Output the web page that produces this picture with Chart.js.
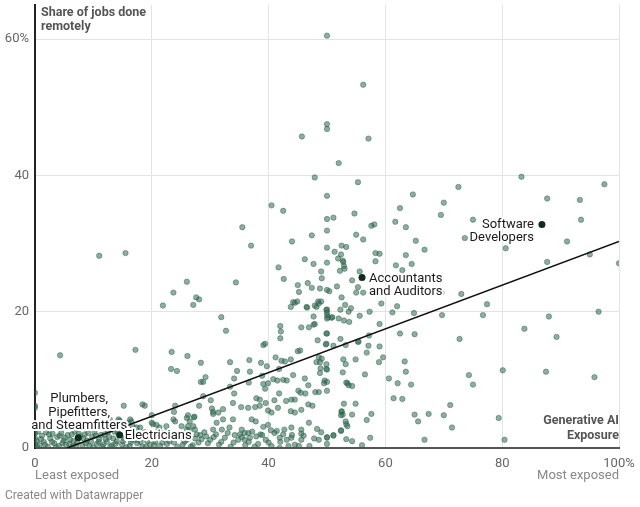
<!DOCTYPE html>
<html>
<head>
<meta charset="utf-8">
<script src="https://cdn.jsdelivr.net/npm/chart.js@4.4.1/dist/chart.umd.min.js"></script>
<style>
  html, body { margin: 0; padding: 0; background: #fff; }
</style>
</head>
<body>
<canvas id="chart" width="640" height="507"></canvas>
<script>
// [generative AI exposure, share of jobs done remotely] per occupation
const jobs = [
  // upper part
  [50,60.5],[56.2,53.3],[50,47.5],[50,46.8],[57.1,45.4],[45.7,45.7],[52,41.8],[47.9,39.7],[55.3,39.0],[83.3,39.8],
  [97.5,38.7],[72.5,38.3],[50,37.0],[64.7,37.2],[87.7,36.6],[93.3,36.4],[70,36.0],[40.5,35.6],[62.5,35.2],[42.5,34.8],
  [54.7,34.4],[69.5,34.2],[50,33.6],[51.1,33.8],[61.7,33.2],[75,33.5],[93.5,33.5],[57.6,32.6],[58.1,32.8],[35.5,32.4],
  [63.5,32.4],[50,31.9],[47.4,31.2],[55,31.3],[56.2,30.6],[65.2,30.4],[73.6,30.8],[91.1,30.3],[44.0,30.3],[37.0,29.7],
  [52.5,29.7],[53.3,29.5],[50,29.4],[66.7,29.1],[80.6,29.3],[11.0,28.2],[15.5,28.6],
  // 20 - 29
  [51.3,28.8],[52.4,28.4],[58.3,28.6],[59.0,28.5],[63.5,28.3],[95,28.4],[51.9,27.8],[52.7,27.5],[52.8,27.3],[58.3,27.4],
  [87.7,27.3],[100,27.1],[46.2,27.7],[47.7,27.0],[50,27.2],[52.9,26.7],[61.8,26.8],[64.5,27.0],[62.9,26.1],[41.7,26.5],
  [49,25.9],[52.2,26.0],[53,26.3],[55.6,25.9],[42.6,24.8],[49.1,24.9],[54.3,24.6],[26,24.4],[34.4,24.3],[45,23.9],
  [46.7,24.2],[47.4,23.5],[48.8,23.4],[50,23.2],[50.4,23.0],[51.7,23.7],[55.3,23.6],[55,22.8],[56.2,22.8],[45.2,22.9],
  [69.6,22.8],[73.0,22.6],[23.7,22.8],[52.5,22.1],[27.6,22.1],[28.1,21.8],[44.9,21.5],[48.5,21.5],[49,21.5],[44.5,21.3],
  [44.2,21.4],[48.6,21.2],[59.3,21.2],[77.4,21.1],[27.1,21.0],[21.9,20.9],[53.1,21.0],[62.0,20.8],[47.9,20.9],[43.8,20.7],
  [46.6,20.6],[48.2,20.7],[46.5,20.7],[52.3,20.3],[54.1,20.5],[49.9,20.3],[50,20.3],[53.7,20.0],[57.3,20.0],[96.5,20.0],
  [61.2,19.9],[64.9,19.8],
  // 15 - 20
  [50,19.9],[50,19.5],[69.7,19.5],[76.7,19.5],[88,19.3],[55.6,19.4],[47.7,19.3],[50.2,19.2],[50.8,19.1],[50.9,19.2],
  [52.0,19.0],[50,19.0],[31.9,19.2],[52.9,18.7],[53.8,18.5],[47.9,18.2],[59.0,18.2],[47.7,18.1],[42.0,17.9],[45.6,17.7],
  [46.9,17.7],[83.8,17.5],[32.7,17.2],[42.1,17.1],[50,16.8],[49.9,16.8],[62.5,16.8],[65.0,16.7],[57.2,16.5],[89.3,16.3],
  [42.0,16.1],[72.7,16.0],[52.3,16.0],[48.4,15.8],[55.3,15.6],[55.4,15.6],[49.8,15.2],[49.9,15.3],[51.1,15.0],[53.2,15.1],
  [57.1,15.0],[59.0,14.9],[39.1,15.1],[39.4,15.3],
  // 10 - 15
  [17.2,14.4],[45.0,14.2],[45.4,14.3],[23.4,14.1],[56.8,14.0],[4.3,13.6],[26.1,13.5],[41.2,13.3],[48.6,13.3],[59.6,13.3],
  [52.8,13.0],[54.9,13.0],[43.8,13.0],[49.1,13.1],[36.7,12.9],[42.2,12.8],[42.8,12.7],[63.3,12.7],[58.9,12.6],[33.4,12.6],
  [48.8,12.6],[48.2,12.6],[28.4,12.5],[38.7,12.5],[49.9,12.3],[53.2,12.3],[39.7,12.0],[23.3,11.6],[41.8,11.6],[49.9,11.6],
  [48.9,11.7],[50,11.5],[80.1,11.4],[24.3,11.3],[34.6,11.3],[36.8,11.2],[63.5,11.2],[87.5,11.2],[52.7,11.1],[48.8,11.0],
  [56.5,10.8],[74.3,10.7],[44.2,10.7],[38.9,10.6],[29.2,10.4],[95.8,10.4],[34.1,10.2],[46.2,10.2],[60.6,10.2],[40.8,10.1],
  [42.5,10.0],
  // 5 - 10
  [43.1,9.9],[41.5,9.9],[49.6,9.9],[28.4,9.7],[28.8,9.7],[50,9.7],[36.6,9.6],[53.3,9.6],[39.9,9.5],[49.5,9.5],
  [53.5,9.5],[62.1,9.5],[39.1,9.4],[64.4,9.3],[75,9.3],[46.8,9.2],[53.7,9.2],[54.3,9.1],[33.4,9.0],[39.4,8.7],
  [45.1,8.4],[50,8.4],[48.0,8.2],[48.6,8.2],[45.5,8.1],[0,8.1],[34.1,8.0],[41.8,8.0],[46.3,8.0],[28.8,7.6],
  [37.9,7.3],[61.4,7.3],[62.9,7.2],[43.9,7.1],[44.5,7.1],[38.5,7.1],[30.1,7.0],[41.0,7.0],[43.0,6.9],[39.5,6.6],
  [33.9,6.6],[52.9,6.5],[54.9,6.5],[18.4,6.4],[46.8,6.4],[71.1,6.3],[0,6.2],[15.2,6.2],[18.8,6.2],[24.0,6.2],
  [28.1,6.2],[38.5,6.2],[47.5,6.2],[37.7,6.0],[35.3,6.0],[0,5.9],[36.5,5.9],[41.6,5.9],[30.3,5.8],[32.2,5.7],
  [45.6,5.6],[39.9,5.5],[43.8,5.4],[52.5,5.4],[23.8,5.3],[30.5,5.3],[52.5,5.3],[31.4,5.2],[40.5,5.2],[44.5,5.2],
  [30.5,5.0],[57.6,5.0],[67.4,5.0],[65,4.9],[54.3,4.9],[52.7,4.9],[70.0,4.8],[20.0,4.8],[26.2,4.8],[52.4,4.8],
  // 2.5 - 5
  [27.2,4.5],[27.3,4.6],[79.4,4.4],[26.0,4.4],[33.9,4.2],[32.2,4.2],[37.1,4.2],[23.7,4.2],[12.8,4.2],[14.3,4.2],
  [16.3,4.2],[56.8,4.1],[14.5,4.0],[24.0,3.9],[26.5,3.9],[37.8,3.9],[65.6,3.9],[53.2,3.9],[16.5,3.9],[16.0,3.7],
  [20.0,3.7],[31.1,3.7],[46.9,3.7],[20.2,3.5],[53.3,3.5],[20.8,3.4],[39.9,3.4],[16.7,3.2],[22.5,3.2],[25.1,3.2],
  [26.2,3.2],[27.1,3.2],[53.5,3.2],[39.1,3.1],[71.4,3.0],[18.0,3.0],[21.3,3.0],[17.4,3.0],[33.3,3.0],[43.9,3.0],
  [48.3,2.8],[45.6,2.7],[42.7,2.7],[32.0,2.7],[30.5,2.7],[27.4,2.7],[26.0,2.7],[35.4,2.7],[40.4,2.6],[52.4,2.6],
  [41.4,2.5],[26.5,2.5],[52.4,2.5],[0,3.0],[0,3.5],
  // 0 - 2.5
  [36.5,2.2],[35.9,2.2],[21.7,2.2],[24.8,2.2],[0,2.2],[45.6,2.1],[38.6,2.0],[35.1,2.0],[31.0,2.0],[27.7,2.0],
  [51.1,1.9],[51.1,1.8],[37.9,1.7],[29.3,1.7],[50,1.6],[50,1.5],[43.9,1.5],[41.9,1.5],[36.8,1.5],[57.4,1.5],
  [0,1.5],[53.3,1.3],[28.5,1.3],[30.0,1.2],[34.8,1.2],[35.9,1.2],[43.1,1.2],[45.6,1.2],[48.6,1.2],[66.7,1.2],
  [80.4,1.2],[54.3,1.0],[0,0.7],[50,0.6],[56,0.4],[43.4,0.3],[41.9,0],[0,0],
  [0.3,1.0],[0.5,2.4],[0.8,0.4],[1.2,1.8],[1.5,0.9],[1.9,2.3],[2.2,0.2],[2.6,1.4],[3.0,2.1],[3.3,0.7],
  [3.8,1.6],[4.1,0.3],[4.5,2.2],[4.9,1.1],[5.3,0.5],[5.6,1.9],[6.0,1.2],[6.4,0.2],[6.8,2.4],[7.2,0.8],
  [7.7,1.7],[8.1,0.4],[8.5,2.0],[8.9,1.1],[9.3,0.3],[9.8,1.6],[10.2,2.3],[10.6,0.6],[11.0,1.3],[11.5,0.2],
  [11.9,2.0],[12.3,0.9],[12.7,1.6],[13.2,0.4],[13.6,2.4],[14.0,1.0],[14.9,0.5],[15.3,1.4],[15.8,2.2],[16.2,0.3],
  [16.6,1.2],[17.1,2.0],[17.5,0.7],[17.9,1.6],[18.4,0.2],[18.8,2.3],[19.2,1.0],[19.7,0.5],[20.1,1.8],[20.6,0.9],
  [21.0,2.4],[21.4,0.3],[22.0,1.4],[22.6,0.6],[23.2,1.9],[23.8,0.8],[24.4,0.2],[25.0,1.5],[25.6,0.9],[26.3,1.9],
  [27.0,0.4],[28.0,0.8],[29.0,2.3],[31.5,0.5],[32.5,1.5],[33.5,0.2],[34.2,1.9],[36.0,0.4],[37.2,2.4],[38.2,0.6],
  [39.5,1.2],[40.5,0.3],[42.5,2.0],[44.5,0.5],[46.0,1.8],[47.0,0.3],[49.0,2.3],
  [0.4,0.1],[1.0,1.3],[1.7,0.5],[2.4,2.0],[2.9,0.9],[3.6,0.1],[4.2,1.8],[4.7,0.7],[5.1,1.5],[5.9,0.6],
  [6.3,2.0],[6.6,1.0],[7.0,0.3],[7.5,2.1],[8.3,1.4],[8.7,0.7],[9.1,2.2],[9.6,0.9],[10.0,0.1],[10.4,1.8],
  [10.9,0.9],[11.3,1.9],[11.7,0.5],[12.1,1.3],[12.5,2.3],[12.9,0.2],[13.4,1.4],[13.8,0.6],[14.2,2.2],[15.1,1.0],
  [15.6,0.1],[16.0,1.7],[16.4,0.8],[16.9,2.4],[17.3,1.2],[18.1,0.9],[18.6,1.5],[19.0,0.2],[19.5,2.0],[20.4,0.4],
  [21.2,1.6],[21.8,0.8],[22.4,2.3],[23.0,1.0],[24.1,1.6],[25.3,0.5],[26.0,1.2],[26.7,0.2],[27.4,1.4],[28.3,1.9],
  [29.6,0.7],[30.6,1.6],[31.9,0.9],[33.0,2.2],[34.0,0.8],[35.4,1.6],[36.6,0.9],[37.6,0.2],[38.9,1.9],[40.0,0.8],
  [41.0,2.2],[42.0,0.9],[44.0,1.9],[45.2,0.3],[47.8,1.4]
];

// labelled occupations
const highlightNames = [['Software', 'Developers'], ['Accountants', 'and Auditors'], ['Plumbers,', 'Pipefitters,', 'and Steamfitters'], ['Electricians']];
const highlightExposure = [86.8, 56.0, 7.4, 14.5];
const highlightRemote = [32.8, 25.0, 1.5, 1.9];

// fitted trend line ends
const trendExposure = [5.5, 100];
const trendRemote = [0, 30.3];

const xTicks = [0, 20, 40, 60, 80, 100];
const yTicks = [0, 20, 40, 60];

// where each label sits relative to its dot (pixels)
const labelStyle = [
  { align: 'right', dx: -8, dy: 0 },
  { align: 'left', dx: 7, dy: 1 },
  { align: 'center', dx: 1, dy: -39 },
  { align: 'left', dx: 5, dy: 1 }
];

const FONT = 'Roboto, "Noto Sans", sans-serif';

const textPlugin = {
  id: 'texts',
  afterDatasetsDraw(chart) {
    const ctx = chart.ctx;
    const xs = chart.scales.x, ys = chart.scales.y;
    ctx.save();
    ctx.textBaseline = 'middle';
    ctx.font = '13px ' + FONT;
    ctx.lineJoin = 'round';
    highlightNames.forEach((lines, i) => {
      const st = labelStyle[i];
      const px = xs.getPixelForValue(highlightExposure[i]) + st.dx;
      const py = ys.getPixelForValue(highlightRemote[i]) + st.dy;
      ctx.textAlign = st.align;
      lines.forEach((t, j) => {
        ctx.strokeStyle = '#fff';
        ctx.lineWidth = 4;
        ctx.strokeText(t, px, py + j * 13.5);
        ctx.fillStyle = '#1a1a1a';
        ctx.fillText(t, px, py + j * 13.5);
      });
    });
    ctx.restore();
  },
  afterDraw(chart) {
    const ctx = chart.ctx;
    const a = chart.chartArea;
    ctx.save();
    ctx.textBaseline = 'middle';
    // axis titles
    ctx.font = 'bold 12.5px ' + FONT;
    ctx.fillStyle = '#555';
    ctx.textAlign = 'left';
    ctx.fillText('Share of jobs done', a.left + 6, 13);
    ctx.fillText('remotely', a.left + 6, 27);
    ctx.textAlign = 'right';
    ctx.fillText('Generative AI', a.right, a.bottom - 27);
    ctx.fillText('Exposure', a.right, a.bottom - 12);
    // scale ends
    ctx.font = '13px ' + FONT;
    ctx.fillStyle = '#888';
    ctx.textAlign = 'left';
    ctx.fillText('Least exposed', a.left, a.bottom + 28);
    ctx.textAlign = 'right';
    ctx.fillText('Most exposed', a.right, a.bottom + 28);
    // credit
    ctx.font = '12px ' + FONT;
    ctx.textAlign = 'left';
    ctx.fillText('Created with Datawrapper', 5, a.bottom + 48);
    ctx.restore();
  }
};

new Chart(document.getElementById('chart'), {
  data: {
    datasets: [
      {
        type: 'scatter',
        data: highlightExposure.map((x, i) => ({ x: x, y: highlightRemote[i] })),
        pointRadius: 3.5,
        backgroundColor: '#0f2a1e',
        borderColor: '#0f2a1e',
        borderWidth: 0
      },
      {
        type: 'line',
        data: trendExposure.map((x, i) => ({ x: x, y: trendRemote[i] })),
        borderColor: '#111',
        borderWidth: 1.5,
        pointRadius: 0,
        fill: false
      },
      {
        type: 'scatter',
        data: jobs.map(p => ({ x: p[0], y: p[1] })),
        pointRadius: 2.7,
        backgroundColor: 'rgba(47,107,80,0.55)',
        borderColor: 'rgba(40,90,68,0.55)',
        borderWidth: 0.8
      }
    ]
  },
  options: {
    responsive: false,
    animation: false,
    layout: { padding: { top: 5, right: 21, left: 0, bottom: 0 } },
    plugins: {
      legend: { display: false },
      tooltip: { enabled: false }
    },
    scales: {
      x: {
        type: 'linear',
        min: 0,
        max: 100,
        afterBuildTicks: s => { s.ticks = xTicks.map(v => ({ value: v })); },
        afterFit: s => { s.height = 59; s.paddingLeft = 0; s.paddingRight = 0; },
        grid: { color: '#e3e3e3', drawTicks: false },
        border: { color: '#555', width: 2 },
        ticks: {
          color: '#666',
          padding: 8,
          font: { family: FONT, size: 13 },
          callback: v => v === 100 ? '100%' : v
        }
      },
      y: {
        type: 'linear',
        min: 0,
        max: 65,
        afterBuildTicks: s => { s.ticks = yTicks.map(v => ({ value: v })); },
        afterFit: s => { s.width = 35; s.paddingTop = 0; s.paddingBottom = 0; },
        grid: { color: '#e3e3e3', drawTicks: false },
        border: { color: '#222', width: 2 },
        ticks: {
          color: '#666',
          padding: 6,
          font: { family: FONT, size: 13 },
          callback: v => v === 60 ? '60%' : v
        }
      }
    }
  },
  plugins: [textPlugin]
});
</script>
</body>
</html>
